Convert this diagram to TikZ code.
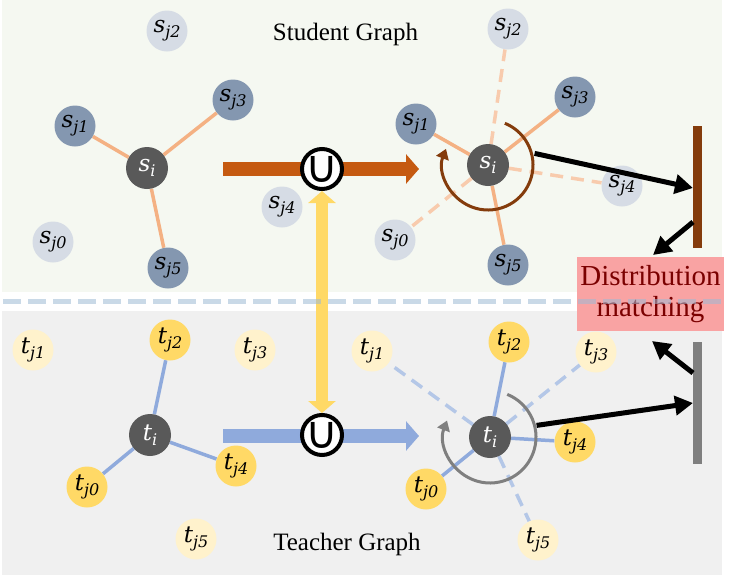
\documentclass[tikz,border=0pt]{standalone}
\usepackage{fontspec}
\setmainfont{Liberation Serif}
\newfontfamily\dejavu{DejaVu Sans}
\newfontfamily\labfont{DejaVu Serif}
\usetikzlibrary{arrows.meta,calc}
\definecolor{bgtop}{HTML}{F5F8F1}
\definecolor{bgbot}{HTML}{F0F0F0}
\definecolor{ndark}{HTML}{595959}
\definecolor{sdark}{HTML}{8497B0}
\definecolor{slight}{HTML}{D6DCE5}
\definecolor{tdark}{HTML}{FFD966}
\definecolor{tlight}{HTML}{FFF2CC}
\definecolor{salm}{HTML}{F4B183}
\definecolor{salmL}{HTML}{F8CBAD}
\definecolor{blu}{HTML}{8FAADC}
\definecolor{bluL}{HTML}{B4C7E7}
\definecolor{orng}{HTML}{C55A11}
\definecolor{brwn}{HTML}{843C0C}
\definecolor{gry}{HTML}{7F7F7F}
\definecolor{sepc}{HTML}{9DBAD5}
\definecolor{pinkbox}{HTML}{F9A3A3}
\definecolor{dred}{HTML}{7B0000}
\definecolor{yel}{HTML}{FFD966}
\newcommand{\nlab}[2]{{\labfont\itshape\fontsize{23}{23}\selectfont #1\raisebox{-5pt}{\fontsize{16}{16}\selectfont #2}}}
\pgfdeclarelayer{bglayer}
\pgfdeclarelayer{edgelayer}
\pgfsetlayers{bglayer,edgelayer,main}
\tikzset{
  gnode/.style={circle, minimum size=41pt, inner sep=0pt},
  cnode/.style={gnode, fill=ndark, text=white, minimum size=42pt},
  sdn/.style={gnode, fill=sdark},
  sln/.style={gnode, fill=slight},
  tdn/.style={gnode, fill=tdark},
  tln/.style={gnode, fill=tlight},
  sedge/.style={salm, line width=3.5pt},
  sdash/.style={salmL, line width=3.5pt, dash pattern=on 13pt off 8pt},
  bedge/.style={blu, line width=3.5pt},
  bdash/.style={bluL, line width=3.5pt, dash pattern=on 13pt off 8pt},
  unode/.style={circle, draw=black, line width=4pt, fill=white, minimum size=40pt, inner sep=0pt,
    label={[inner sep=0pt, font=\dejavu\fontsize{45}{45}\selectfont]center:∪}},
  fatarrow/.style={line width=14pt, -{Triangle[length=13pt,width=29pt]}},
  blackarrow/.style={black, line width=5pt, -{Triangle[length=18pt,width=19pt]}},
  rotarrow/.style={line width=3pt, -{Triangle[length=10pt,width=13pt]}},
  barline/.style={line width=9pt},
  title/.style={anchor=base, font=\fontsize{25}{25}\selectfont}
}
\begin{document}
\begin{tikzpicture}[x=1pt,y=-1pt]
\useasboundingbox (0,0) rectangle (747,576);
\begin{pgfonlayer}{bglayer}
\fill[white] (0,0) rectangle (747,576);
\fill[bgtop] (2,0) rectangle (722,292);
\fill[bgbot] (2,311) rectangle (722,575);
\end{pgfonlayer}

% titles
\node[title] (tst) at (345.5,40) {Student Graph};
\node[title] (tte) at (347,550) {Teacher Graph};

% student left
\node[sln] (sa2) at (167,31) {\nlab{s}{j2}};
\node[sdn] (sa3) at (233,100) {\nlab{s}{j3}};
\node[sdn] (sa1) at (75,126) {\nlab{s}{j1}};
\node[cnode] (sai) at (147,168) {\nlab{s}{i}};
\node[sln] (sa0) at (53,242) {\nlab{s}{j0}};
\node[sdn] (sa5) at (168,268) {\nlab{s}{j5}};
\node[sln] (sa4) at (282,207) {\nlab{s}{j4}};
% student right
\node[sln] (sb2) at (508,29) {\nlab{s}{j2}};
\node[sdn] (sb3) at (575,97) {\nlab{s}{j3}};
\node[sdn] (sb1) at (416,124) {\nlab{s}{j1}};
\node[cnode] (sbi) at (488,165) {\nlab{s}{i}};
\node[sln] (sb4) at (622,186) {\nlab{s}{j4}};
\node[sln] (sb0) at (395,240) {\nlab{s}{j0}};
\node[sdn] (sb5) at (508,265) {\nlab{s}{j5}};
% teacher left
\node[tln] (ta1) at (33,350) {\nlab{t}{j1}};
\node[tdn] (ta2) at (170,340) {\nlab{t}{j2}};
\node[tln] (ta3) at (255,350) {\nlab{t}{j3}};
\node[cnode] (tai) at (150,435) {\nlab{t}{i}};
\node[tdn] (ta4) at (236,466) {\nlab{t}{j4}};
\node[tdn] (ta0) at (87,487) {\nlab{t}{j0}};
\node[tln] (ta5) at (196,539) {\nlab{t}{j5}};
% teacher right
\node[tln] (tb1) at (372,351) {\nlab{t}{j1}};
\node[tdn] (tb2) at (509,342) {\nlab{t}{j2}};
\node[tln] (tb3) at (596,352) {\nlab{t}{j3}};
\node[cnode] (tbi) at (490,437) {\nlab{t}{i}};
\node[tdn] (tb4) at (575,442) {\nlab{t}{j4}};
\node[tdn] (tb0) at (426,489) {\nlab{t}{j0}};
\node[tln] (tb5) at (538,540) {\nlab{t}{j5}};

\begin{pgfonlayer}{edgelayer}
\draw[sedge] (sai) -- (sa1) (sai) -- (sa3) (sai) -- (sa5);
\draw[sedge] (sbi) -- (sb1) (sbi) -- (sb3) (sbi) -- (sb5);
\draw[sdash] (sbi.center) -- (sb2) (sbi.center) -- (sb4) (sbi.center) -- (sb0);
\draw[bedge] (tai) -- (ta2) (tai) -- (ta4) (tai) -- (ta0);
\draw[bedge] (tbi) -- (tb2) (tbi) -- (tb4) (tbi) -- (tb0);
\draw[bdash] (tbi.center) -- (tb1) (tbi.center) -- (tb3) (tbi.center) -- (tb5);
\end{pgfonlayer}

% union arrows
\coordinate (oas) at (223,169);
\coordinate (oae) at (419,169);
\coordinate (bas) at (223,436);
\coordinate (bae) at (419,436);
\draw[orng, fatarrow] (oas) -- (oae);
\draw[blu, fatarrow] (bas) -- (bae);
\node[unode] (u1) at (322,169) {};
\node[unode] (u2) at (322,435) {};
\draw[yel, line width=12pt, {Triangle[length=12pt,width=27pt]}-{Triangle[length=12pt,width=27pt]}] (u1.south) -- (u2.north);

% rotation arrows
\draw[brwn, rotarrow] ($(sbi)+(-68:45)$) arc[start angle=-68, end angle=201, radius=45];
\draw[gry, rotarrow] ($(tbi)+(-68:46)$) arc[start angle=-68, end angle=201, radius=46];

% bars
\coordinate (b1t) at (697,126);
\coordinate (b1b) at (697,248);
\coordinate (b2t) at (697,342);
\coordinate (b2b) at (697,464);
\draw[brwn, barline] (b1t) -- (b1b);
\draw[gry, barline] (b2t) -- (b2b);

% distribution matching box
\node[fill=pinkbox, minimum width=147pt, minimum height=74pt, inner sep=0pt, text=dred,
      font=\fontsize{29}{32}\selectfont, align=center] (dm) at (650.5,294) {Distribution\\[-1pt]matching};

% separator
\coordinate (sepl) at (3,301);
\coordinate (sepr) at (723,301);
\draw[sepc, opacity=0.55, line width=5pt, dash pattern=on 18pt off 7pt] (sepl) -- (sepr);

% black arrows
\coordinate (sbo) at ($(sbi)+(-14:48)$);
\coordinate (tbo) at ($(tbi)+(-14:48)$);
\coordinate (b1in) at (693,188);
\coordinate (b1out) at (693,222);
\coordinate (dmt) at (653,255);
\coordinate (b2in) at (693,403);
\coordinate (b2out) at (693,373);
\coordinate (dmb) at (652,341);
\draw[blackarrow] (sbo) -- (b1in);
\draw[blackarrow] (b1out) -- (dmt);
\draw[blackarrow] (tbo) -- (b2in);
\draw[blackarrow] (b2out) -- (dmb);
\end{tikzpicture}
\end{document}
